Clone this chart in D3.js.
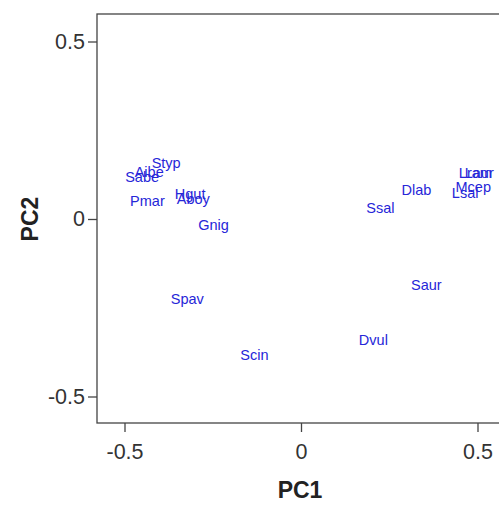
<!DOCTYPE html>
<html><head><meta charset="utf-8">
<script src="https://cdn.jsdelivr.net/npm/d3@7"></script>
<style>body{margin:0;background:#fff;} svg{display:block;}</style>
</head><body>
<script>
const species = ["Styp","Aibe","Sabe","Pmar","Hgut","Aboy","Gnig","Spav","Scin","Dvul","Saur","Ssal","Dlab","Lsal","Mcep","Lram","Laur"];
const pc1 = [-0.382,-0.430,-0.450,-0.435,-0.314,-0.305,-0.248,-0.322,-0.132,0.205,0.355,0.225,0.327,0.465,0.488,0.494,0.505];
const pc2 = [0.158,0.132,0.118,0.051,0.070,0.056,-0.017,-0.225,-0.383,-0.341,-0.186,0.031,0.082,0.073,0.090,0.130,0.130];
const xTicks = [-0.5,0,0.5];
const yTicks = [-0.5,0,0.5];
const xLabels = ["-0.5","0","0.5"];
const yLabels = ["-0.5","0","0.5"];

const W=499,H=511;
const svg=d3.select("body").append("svg").attr("width",W).attr("height",H);
const L=97,T=14,B=423,R=520;
const x=d3.scaleLinear().domain([-0.5,0.5]).range([124.5,477.5]);
const y=d3.scaleLinear().domain([-0.5,0.5]).range([396.5,41.5]);

svg.append("rect").attr("x",L).attr("y",T).attr("width",R-L).attr("height",B-T)
  .attr("fill","none").attr("stroke","#444").attr("stroke-width",1.3);

const xa=svg.append("g").attr("transform",`translate(0,${B})`)
  .call(d3.axisBottom(x).tickValues(xTicks).tickSize(9).tickPadding(12).tickFormat((d,i)=>xLabels[i]));
const ya=svg.append("g").attr("transform",`translate(${L},0)`)
  .call(d3.axisLeft(y).tickValues(yTicks).tickSize(9).tickPadding(3).tickFormat((d,i)=>yLabels[i]));
[xa,ya].forEach(a=>{
  a.select(".domain").remove();
  a.selectAll("line").attr("stroke","#444").attr("stroke-width",1.3);
  a.selectAll("text").attr("font-family","Liberation Sans, Arial, sans-serif").attr("font-size",21.5).attr("fill","#333");
});

svg.append("text").attr("x",300).attr("y",498).attr("text-anchor","middle")
  .attr("font-family","Liberation Sans, Arial, sans-serif").attr("font-weight","bold").attr("font-size",23).attr("fill","#222").text("PC1");
svg.append("text").attr("transform","translate(38,219) rotate(-90)").attr("text-anchor","middle")
  .attr("font-family","Liberation Sans, Arial, sans-serif").attr("font-weight","bold").attr("font-size",23).attr("fill","#222").text("PC2");

svg.append("g").selectAll("text").data(species).join("text")
  .attr("x",(d,i)=>x(pc1[i])).attr("y",(d,i)=>y(pc2[i])).attr("dy","0.35em")
  .attr("text-anchor","middle").attr("font-family","Liberation Sans, Arial, sans-serif")
  .attr("font-size",14.5).attr("fill","#2626d8").text(d=>d);
</script>
</body></html>
